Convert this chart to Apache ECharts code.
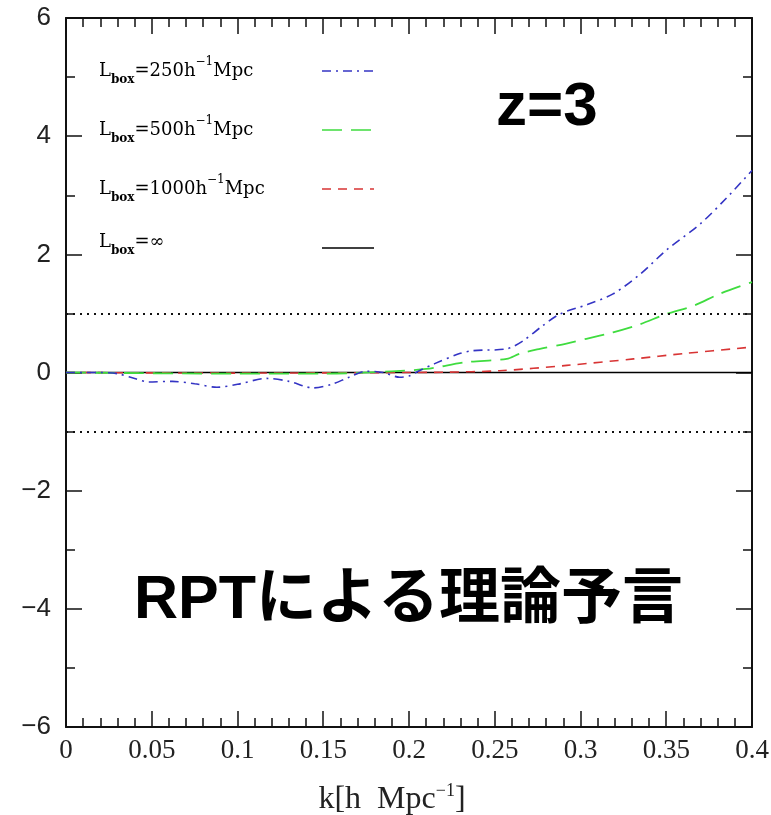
<!DOCTYPE html>
<html>
<head>
<meta charset="utf-8">
<script src="https://cdn.jsdelivr.net/npm/echarts@6/dist/echarts.min.js"></script>
<style>html,body{margin:0;padding:0;background:#fff}#c{width:771px;height:815px}</style>
</head>
<body>
<div id="c"></div>
<script>
// ---- data ----
const xTicks = [0, 0.05, 0.1, 0.15, 0.2, 0.25, 0.3, 0.35, 0.4];
const yTicks = [-6, -4, -2, 0, 2, 4, 6];

const kInf = [0, 0.4];
const valInf = [0, 0];

const k250 = [0, 0.02, 0.03, 0.04, 0.048, 0.062, 0.075, 0.088, 0.1, 0.117, 0.13, 0.144, 0.155, 0.165, 0.175, 0.185, 0.1945, 0.2, 0.206, 0.215, 0.2295, 0.2373, 0.257, 0.2667, 0.277, 0.288, 0.304, 0.319, 0.335, 0.35, 0.37, 0.385, 0.4];
const val250 = [0, 0, -0.02, -0.1, -0.16, -0.15, -0.19, -0.25, -0.2, -0.1, -0.15, -0.26, -0.2, -0.08, 0.02, 0, -0.08, -0.06, 0.03, 0.15, 0.32, 0.37, 0.4, 0.54, 0.77, 0.99, 1.15, 1.33, 1.67, 2.07, 2.52, 2.95, 3.42];

const k500 = [0, 0.1, 0.15, 0.19, 0.21, 0.2334, 0.257, 0.2647, 0.2764, 0.2918, 0.3034, 0.319, 0.335, 0.35, 0.366, 0.381, 0.4];
const val500 = [0, -0.02, -0.02, 0.02, 0.06, 0.175, 0.23, 0.32, 0.40, 0.49, 0.57, 0.68, 0.82, 0.99, 1.13, 1.33, 1.53];

const k1000 = [0, 0.1, 0.2, 0.22, 0.253, 0.292, 0.331, 0.36, 0.4];
const val1000 = [0, -0.01, 0, 0.005, 0.03, 0.12, 0.23, 0.32, 0.43];

const legendLabels = [
  {box: '250', color: '#2a2acc'},
  {box: '500', color: '#33dd33'},
  {box: '1000', color: '#dd3030'},
  {box: null, color: '#111111'}
];

// ---- build ----
const zip = (a, b) => a.map((x, i) => [x, b[i]]);

const BLUE = '#3434c4', GREEN = '#3fdc3f', RED = '#d83434', BLACK = '#000';
const dashBlue = [9, 5, 2, 5];
const dashGreen = [20, 9];
const dashRed = [9, 7];

const chart = echarts.init(document.getElementById('c'), null, {renderer: 'canvas'});

const axisCommon = {
  axisLine: {show: true, onZero: false, lineStyle: {color: '#111', width: 2}},
  splitLine: {show: false}
};

const legendFont = '"DejaVu Serif", serif';
function legendText(item) {
  if (item.box === null) return '{m|L}{s|box}{m|=∞}';
  return '{m|L}{s|box}{m|=' + item.box + 'h}{u|−1}{m|Mpc}';
}
function legendRich(color) {
  return {
    m: {fontSize: 18, fontFamily: legendFont, color: color, lineHeight: 30, verticalAlign: 'middle'},
    s: {fontSize: 12, fontFamily: legendFont, color: color, lineHeight: 15, verticalAlign: 'bottom', fontWeight: 'bold'},
    u: {fontSize: 12, fontFamily: legendFont, color: color, lineHeight: 16, verticalAlign: 'top'}
  };
}
const rowsY = [71, 130, 189, 248];
const dashes = [dashBlue, dashGreen, dashRed, null];
const sampleColors = [BLUE, GREEN, RED, BLACK];
const graphics = [];
legendLabels.forEach((it, i) => {
  graphics.push({
    type: 'text', left: 99, top: rowsY[i] - 15, z: 10,
    style: {text: legendText(it), rich: legendRich(it.color)}
  });
  graphics.push({
    type: 'line', z: 10,
    shape: {x1: 322, y1: rowsY[i], x2: 374, y2: rowsY[i]},
    style: {stroke: sampleColors[i], lineWidth: 1.6, lineDash: dashes[i] || null}
  });
});
graphics.push({
  type: 'text', left: 496, top: 77, z: 10,
  style: {text: 'z=3', font: 'bold 62px "Liberation Sans", Arial, sans-serif', fill: '#000'}
});
graphics.push({
  type: 'text', left: 134, top: 571, z: 10,
  style: {text: 'RPTによる理論予言', font: 'bold 61px "Liberation Sans", "Noto Sans CJK JP", sans-serif', fill: '#000'}
});

const option = {
  backgroundColor: '#fff',
  animation: false,
  grid: {left: 66, right: 19, top: 18, bottom: 88, containLabel: false, outerBoundsMode: 'none'},
  xAxis: [
    Object.assign({}, axisCommon, {
      type: 'value', min: 0, max: 0.4, interval: 0.05, position: 'bottom',
      axisTick: {show: true, inside: true, length: 16, lineStyle: {color: '#111', width: 1.5}},
      minorTick: {show: true, splitNumber: 5, length: 9, lineStyle: {color: '#111', width: 1.5}},
      axisLabel: {show: true, margin: 10, fontSize: 27, color: '#222', fontFamily: '"Liberation Serif", serif',
        formatter: v => String(+v.toFixed(2))},
      name: '{a|k[h  Mpc}{b|−1}{a|]}',
      nameLocation: 'middle', nameGap: 55,
      nameTextStyle: {padding: [0, 34, 0, 0], rich: {
        a: {fontSize: 32, fontFamily: '"Liberation Serif", serif', color: '#222', lineHeight: 36, verticalAlign: 'middle'},
        b: {fontSize: 18, fontFamily: '"Liberation Serif", serif', color: '#222', lineHeight: 22, verticalAlign: 'top'}
      }}
    }),
    Object.assign({}, axisCommon, {
      type: 'value', min: 0, max: 0.4, interval: 0.05, position: 'top',
      axisTick: {show: true, inside: true, length: 16, lineStyle: {color: '#111', width: 1.5}},
      minorTick: {show: true, splitNumber: 5, length: 9, lineStyle: {color: '#111', width: 1.5}},
      axisLabel: {show: false}
    })
  ],
  yAxis: [
    Object.assign({}, axisCommon, {
      type: 'value', min: -6, max: 6, interval: 2, position: 'left',
      axisTick: {show: true, inside: true, length: 16, lineStyle: {color: '#111', width: 1.5}},
      minorTick: {show: true, splitNumber: 2, length: 9, lineStyle: {color: '#111', width: 1.5}},
      axisLabel: {show: true, margin: 15, fontSize: 26, color: '#222', fontFamily: '"Liberation Sans", sans-serif',
        formatter: v => (v < 0 ? '−' + Math.abs(v) : String(v))}
    }),
    Object.assign({}, axisCommon, {
      type: 'value', min: -6, max: 6, interval: 2, position: 'right',
      axisTick: {show: true, inside: true, length: 16, lineStyle: {color: '#111', width: 1.5}},
      minorTick: {show: true, splitNumber: 2, length: 9, lineStyle: {color: '#111', width: 1.5}},
      axisLabel: {show: false}
    })
  ],
  series: [
    {
      name: 'inf', type: 'line', data: zip(kInf, valInf), symbol: 'none',
      lineStyle: {color: BLACK, width: 1.6}, z: 2,
      markLine: {
        symbol: 'none', silent: true, label: {show: false},
        lineStyle: {color: '#111', type: [2, 5], width: 1.8},
        data: [{yAxis: 1}, {yAxis: -1}]
      }
    },
    {
      name: '1000', type: 'line', data: zip(k1000, val1000), symbol: 'none', smooth: 0.3,
      lineStyle: {color: RED, width: 1.6, type: dashRed}, z: 3
    },
    {
      name: '500', type: 'line', data: zip(k500, val500), symbol: 'none', smooth: 0.3,
      lineStyle: {color: GREEN, width: 1.8, type: dashGreen}, z: 4
    },
    {
      name: '250', type: 'line', data: zip(k250, val250), symbol: 'none', smooth: 0.3,
      lineStyle: {color: BLUE, width: 1.6, type: dashBlue}, z: 5
    }
  ],
  graphic: graphics
};
chart.setOption(option);
</script>
</body>
</html>
